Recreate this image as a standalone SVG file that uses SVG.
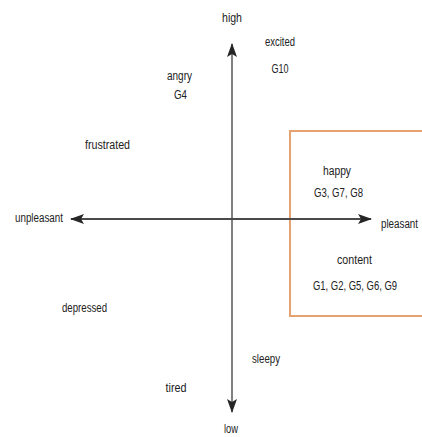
<svg xmlns="http://www.w3.org/2000/svg" width="422" height="437" viewBox="0 0 422 437">
  <style>
    text { font-family: "Liberation Sans", Arial, sans-serif; font-size: 12.5px; fill: #222; text-anchor: middle; }
    .axis-v { stroke: #808080; stroke-width: 2; fill: none; }
    .axis-h { stroke: #4a4a4a; stroke-width: 2; fill: none; }
    .zone { stroke: #e6a271; stroke-width: 2; fill: none; }
  </style>
  <defs>
    <marker id="head" viewBox="0 0 14 10" refX="13" refY="5" markerWidth="14" markerHeight="10" markerUnits="userSpaceOnUse" orient="auto-start-reverse">
      <path d="M0,0 L14,5 L0,10 L3,5 Z" fill="#262626"/>
    </marker>
  </defs>

  <!-- highlighted pleasant region -->
  <rect class="zone" x="290" y="131" width="140" height="185"/>

  <g id="connectors">
    <line class="axis-v" x1="232" y1="44" x2="232" y2="412" marker-start="url(#head)" marker-end="url(#head)"/>
    <line class="axis-h" x1="71" y1="219" x2="371" y2="219" marker-start="url(#head)" marker-end="url(#head)"/>
  </g>

  <g id="high"><text x="232" y="22" textLength="20" lengthAdjust="spacingAndGlyphs">high</text></g>
  <g id="low"><text x="231" y="433" textLength="14" lengthAdjust="spacingAndGlyphs">low</text></g>
  <g id="unpleasant"><text x="39" y="222" textLength="48" lengthAdjust="spacingAndGlyphs">unpleasant</text></g>
  <g id="pleasant"><text x="399.5" y="228" textLength="37" lengthAdjust="spacingAndGlyphs">pleasant</text></g>

  <g id="excited">
    <text x="280" y="46" textLength="30" lengthAdjust="spacingAndGlyphs">excited</text>
    <text x="280" y="73" textLength="17" lengthAdjust="spacingAndGlyphs">G10</text>
  </g>
  <g id="angry">
    <text x="179.5" y="80" textLength="25" lengthAdjust="spacingAndGlyphs">angry</text>
    <text x="180.5" y="99" textLength="13" lengthAdjust="spacingAndGlyphs">G4</text>
  </g>
  <g id="frustrated"><text x="107.5" y="149" textLength="45" lengthAdjust="spacingAndGlyphs">frustrated</text></g>
  <g id="happy">
    <text x="337" y="175" textLength="28" lengthAdjust="spacingAndGlyphs">happy</text>
    <text x="338.5" y="197" textLength="49" lengthAdjust="spacingAndGlyphs">G3, G7, G8</text>
  </g>
  <g id="content">
    <text x="354.5" y="264" textLength="35" lengthAdjust="spacingAndGlyphs">content</text>
    <text x="355" y="290" textLength="84" lengthAdjust="spacingAndGlyphs">G1, G2, G5, G6, G9</text>
  </g>
  <g id="depressed"><text x="84.5" y="312" textLength="45" lengthAdjust="spacingAndGlyphs">depressed</text></g>
  <g id="sleepy"><text x="266" y="363" textLength="28" lengthAdjust="spacingAndGlyphs">sleepy</text></g>
  <g id="tired"><text x="176" y="392" textLength="21" lengthAdjust="spacingAndGlyphs">tired</text></g>
</svg>
